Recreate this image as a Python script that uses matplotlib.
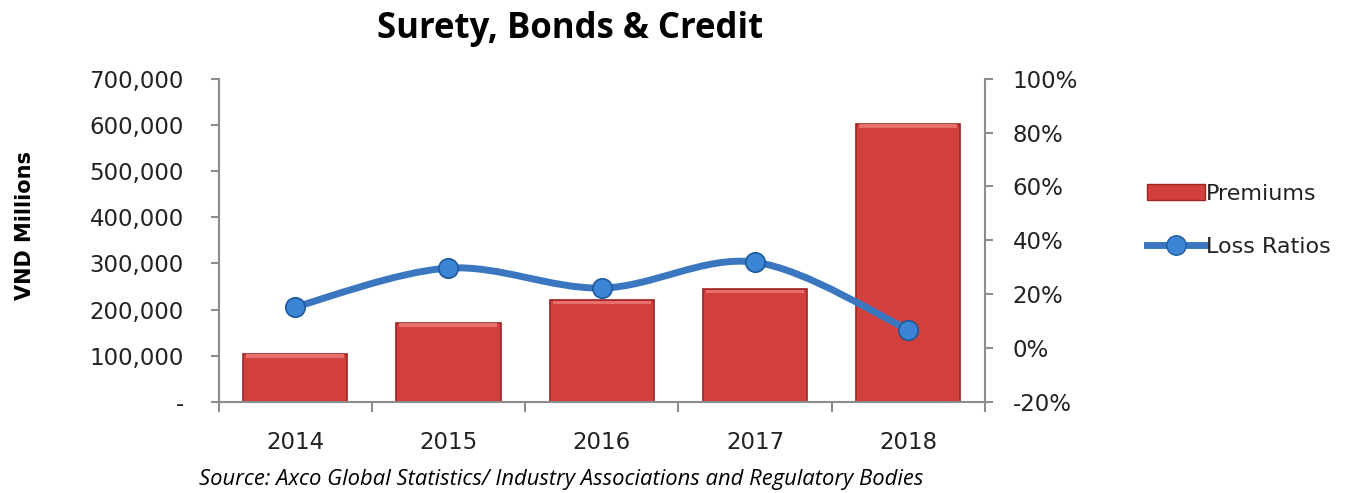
import numpy as np
import matplotlib.pyplot as plt
from matplotlib.path import Path
from matplotlib.patches import PathPatch, Patch
from matplotlib.ticker import FuncFormatter, PercentFormatter
from matplotlib.lines import Line2D

plt.rcParams['font.family'] = ['DejaVu Sans']
plt.rcParams['axes.unicode_minus'] = False

years = ['2014', '2015', '2016', '2017', '2018']
premiums = [105000, 172000, 221000, 245000, 603000]
loss_ratios = [15.3, 29.7, 22.3, 31.9, 6.9]

bar_red = '#D2403D'
bar_edge = '#9E2424'
line_blue = '#3A77C0'
axis_grey = '#8C8C8C'
text_col = '#222222'


def smooth_path(xs, ys, tension=0.5):
    # Catmull-Rom style bezier segments through the points (Excel "smoothed line")
    xs = np.asarray(xs, float)
    ys = np.asarray(ys, float)
    n = len(xs)
    verts = [(xs[0], ys[0])]
    codes = [Path.MOVETO]
    for i in range(n - 1):
        p0 = np.array([xs[max(i - 1, 0)], ys[max(i - 1, 0)]])
        p1 = np.array([xs[i], ys[i]])
        p2 = np.array([xs[i + 1], ys[i + 1]])
        p3 = np.array([xs[min(i + 2, n - 1)], ys[min(i + 2, n - 1)]])
        c1 = p1 + (p2 - p0) * tension / 3
        c2 = p2 - (p3 - p1) * tension / 3
        verts += [tuple(c1), tuple(c2), tuple(p2)]
        codes += [Path.CURVE4] * 3
    return Path(verts, codes)


fig = plt.figure(figsize=(13.53, 4.93), dpi=100)
ax = fig.add_axes([0.1615, 0.1846, 0.5665, 0.6557])
x = np.arange(len(years))

bars = ax.bar(x, premiums, width=0.68, color=bar_red, edgecolor=bar_edge,
              linewidth=1.2, zorder=2)
# light bevel along the top of each bar
for b in bars:
    ax.bar(b.get_x() + b.get_width() / 2, 7000, width=b.get_width() * 0.94,
           bottom=b.get_height() - 9000, color='#E8706C', linewidth=0, zorder=3)

ax.set_xlim(-0.5, len(years) - 0.5)
ax.set_ylim(0, 700000)
ax.set_yticks(np.arange(0, 700001, 100000))
ax.yaxis.set_major_formatter(FuncFormatter(lambda v, p: '-' if v == 0 else f'{int(v):,}'))
ax.set_xticks(x)
ax.set_xticklabels(years)
ax.set_xticks(np.arange(-0.5, len(years), 1), minor=True)
ax.tick_params(axis='x', which='major', length=0, pad=21, labelsize=16.5,
               labelcolor=text_col)
ax.tick_params(axis='x', which='minor', length=7, color=axis_grey, width=1.5)
ax.tick_params(axis='y', length=6, color=axis_grey, width=1.5, labelsize=16.5,
               pad=19, labelcolor=text_col)
for s in ['top', 'right']:
    ax.spines[s].set_visible(False)
for s in ['left', 'bottom']:
    ax.spines[s].set_color(axis_grey)
    ax.spines[s].set_linewidth(1.5)
ax.set_ylabel('VND Millions', fontsize=15, fontweight='bold')
ax.yaxis.set_label_coords(-0.240, 0.545)

ax2 = ax.twinx()
ax2.set_ylim(-20, 100)
ax2.set_yticks(np.arange(-20, 101, 20))
ax2.yaxis.set_major_formatter(PercentFormatter(decimals=0))
ax2.tick_params(axis='y', length=6, color=axis_grey, width=1.5, labelsize=16.5,
                pad=14, labelcolor=text_col)
for s in ['top', 'left', 'bottom']:
    ax2.spines[s].set_visible(False)
ax2.spines['right'].set_color(axis_grey)
ax2.spines['right'].set_linewidth(1.5)

ax2.add_patch(PathPatch(smooth_path(x, loss_ratios), facecolor='none',
                        edgecolor=line_blue, linewidth=5, zorder=4,
                        capstyle='round'))
ax2.plot(x, loss_ratios, linestyle='none', marker='o', markersize=14,
         markerfacecolor='#3C84D4', markeredgecolor='#1F5A9E',
         markeredgewidth=1.2, zorder=5)

fig.text(0.421, 0.942, 'Surety, Bonds & Credit', ha='center', va='center',
         fontsize=25, fontweight='bold', family='Open Sans')
fig.text(0.415, 0.027, 'Source: Axco Global Statistics/ Industry Associations and Regulatory Bodies',
         ha='center', va='center', fontsize=15.8, style='italic', family='Open Sans')

handles = [Patch(facecolor=bar_red, edgecolor=bar_edge, label='Premiums'),
           Line2D([], [], color=line_blue, linewidth=5, marker='o', markersize=14,
                  markerfacecolor='#3C84D4', markeredgecolor='#1F5A9E',
                  label='Loss Ratios')]
fig.legend(handles=handles, loc='center left', bbox_to_anchor=(0.833, 0.553),
           frameon=False, fontsize=16, handlelength=2.6, handletextpad=0.05,
           labelspacing=1.5, labelcolor=text_col)

fig.savefig('out.png', dpi=100)
